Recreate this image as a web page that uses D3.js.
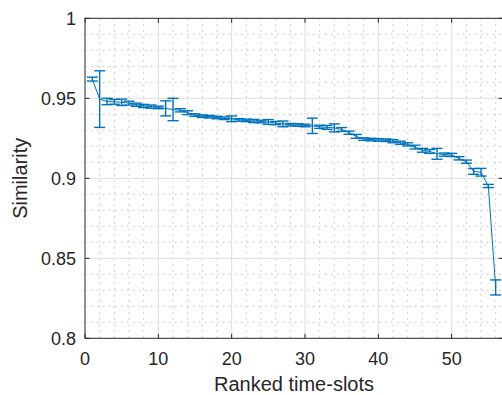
<!DOCTYPE html>
<html>
<head>
<meta charset="utf-8">
<script src="https://cdn.jsdelivr.net/npm/d3@7"></script>
<style>
  body { margin: 0; background: #fff; }
  svg { display: block; }
</style>
</head>
<body>
<div id="chart"></div>
<script>
// Ranked time-slots (x) and mean similarity with error half-widths
const slots = d3.range(1, 57);
const similarity = [
  0.9620, 0.9495, 0.9480, 0.9478, 0.9475, 0.9470, 0.9460, 0.9452, 0.9448, 0.9443,
  0.9437, 0.9430, 0.9425, 0.9410, 0.9395, 0.9388, 0.9385, 0.9380, 0.9375, 0.9372,
  0.9365, 0.9362, 0.9358, 0.9355, 0.9352, 0.9345, 0.9340, 0.9335, 0.9333, 0.9330,
  0.9328, 0.9322, 0.9318, 0.9315, 0.9305, 0.9285, 0.9262, 0.9245, 0.9242, 0.9240,
  0.9238, 0.9232, 0.9222, 0.9212, 0.9195, 0.9175, 0.9168, 0.9153, 0.9148, 0.9146,
  0.9125, 0.9104, 0.9043, 0.9038, 0.8952, 0.8318
];
const errorHalf = [
  0.0012, 0.0177, 0.0020, 0.0015, 0.0020, 0.0012, 0.0010, 0.0010, 0.0010, 0.0008,
  0.0047, 0.0070, 0.0010, 0.0012, 0.0008, 0.0008, 0.0008, 0.0008, 0.0008, 0.0018,
  0.0008, 0.0008, 0.0010, 0.0008, 0.0015, 0.0010, 0.0018, 0.0008, 0.0008, 0.0008,
  0.0048, 0.0010, 0.0012, 0.0025, 0.0012, 0.0010, 0.0012, 0.0008, 0.0008, 0.0008,
  0.0008, 0.0010, 0.0010, 0.0010, 0.0012, 0.0012, 0.0012, 0.0034, 0.0010, 0.0010,
  0.0010, 0.0010, 0.0018, 0.0024, 0.0010, 0.0047
];
const xTicks = [0, 10, 20, 30, 40, 50];
const yTicks = [0.8, 0.85, 0.9, 0.95, 1];
const xMinor = d3.range(2, 57, 2).filter(d => d % 10 !== 0);
const yMinor = d3.range(81, 100).filter(d => d % 5 !== 0).map(d => d / 100);

const width = 502, height = 395;
const margin = {top: 18.3, right: -1, bottom: 56.7, left: 85};
const innerW = width - margin.left - margin.right;
const innerH = height - margin.top - margin.bottom;

const axisColor = "#262626";
const lineColor = "#0072BD";
const font = "'Liberation Sans', Arial, Helvetica, sans-serif";

const x = d3.scaleLinear().domain([0, 57]).range([0, innerW]);
const y = d3.scaleLinear().domain([0.8, 1]).range([innerH, 0]);

const svg = d3.select("#chart").append("svg")
  .attr("width", width)
  .attr("height", height);

const g = svg.append("g")
  .attr("transform", `translate(${margin.left},${margin.top})`);

// Minor grid (dotted)
g.append("g").selectAll("line").data(xMinor).join("line")
  .attr("x1", d => x(d)).attr("x2", d => x(d))
  .attr("y1", 0).attr("y2", innerH)
  .attr("stroke", "#b0b0b0")
  .attr("stroke-width", 0.8)
  .attr("stroke-dasharray", "1.5,4.5");

g.append("g").selectAll("line").data(yMinor).join("line")
  .attr("x1", 0).attr("x2", innerW)
  .attr("y1", d => y(d)).attr("y2", d => y(d))
  .attr("stroke", "#b0b0b0")
  .attr("stroke-width", 0.8)
  .attr("stroke-dasharray", "1.5,4.5");

// Major grid
g.append("g").selectAll("line").data(xTicks.slice(1)).join("line")
  .attr("x1", d => x(d)).attr("x2", d => x(d))
  .attr("y1", 0).attr("y2", innerH)
  .attr("stroke", "#dedede")
  .attr("stroke-width", 1);

g.append("g").selectAll("line").data(yTicks.slice(1, -1)).join("line")
  .attr("x1", 0).attr("x2", innerW)
  .attr("y1", d => y(d)).attr("y2", d => y(d))
  .attr("stroke", "#dedede")
  .attr("stroke-width", 1);

// Data series: connecting line
const points = slots.map((s, i) => ({x: s, y: similarity[i], e: errorHalf[i]}));

g.append("path")
  .datum(points)
  .attr("fill", "none")
  .attr("stroke", lineColor)
  .attr("stroke-width", 1)
  .attr("d", d3.line().x(d => x(d.x)).y(d => y(d.y)));

// Error bars
const capHalf = 5.5;
const bars = g.append("g")
  .attr("stroke", lineColor)
  .attr("stroke-width", 1.4)
  .selectAll("g").data(points).join("g");

bars.append("line")
  .attr("x1", d => x(d.x)).attr("x2", d => x(d.x))
  .attr("y1", d => y(d.y - d.e)).attr("y2", d => y(d.y + d.e));

bars.append("line")
  .attr("x1", d => x(d.x) - capHalf).attr("x2", d => x(d.x) + capHalf)
  .attr("y1", d => y(d.y + d.e)).attr("y2", d => y(d.y + d.e));

bars.append("line")
  .attr("x1", d => x(d.x) - capHalf).attr("x2", d => x(d.x) + capHalf)
  .attr("y1", d => y(d.y - d.e)).attr("y2", d => y(d.y - d.e));

// Axes (box with inward ticks)
const tickLen = 4.5;
const axes = g.append("g")
  .attr("stroke", axisColor)
  .attr("stroke-width", 1);

axes.append("rect")
  .attr("x", 0).attr("y", 0)
  .attr("width", innerW).attr("height", innerH)
  .attr("fill", "none");

axes.selectAll(".xt").data(xTicks).join("line")
  .attr("x1", d => x(d)).attr("x2", d => x(d))
  .attr("y1", innerH).attr("y2", innerH - tickLen);
axes.selectAll(".xtt").data(xTicks).join("line")
  .attr("x1", d => x(d)).attr("x2", d => x(d))
  .attr("y1", 0).attr("y2", tickLen);
axes.selectAll(".yt").data(yTicks).join("line")
  .attr("x1", 0).attr("x2", tickLen)
  .attr("y1", d => y(d)).attr("y2", d => y(d));
axes.selectAll(".ytr").data(yTicks).join("line")
  .attr("x1", innerW).attr("x2", innerW - tickLen)
  .attr("y1", d => y(d)).attr("y2", d => y(d));

// Tick labels
g.append("g").selectAll("text").data(xTicks).join("text")
  .attr("x", d => x(d))
  .attr("y", innerH + 27)
  .attr("text-anchor", "middle")
  .attr("fill", axisColor)
  .attr("font-family", font)
  .attr("font-size", "18px")
  .text(d => d);

g.append("g").selectAll("text").data(yTicks).join("text")
  .attr("x", -9)
  .attr("y", d => y(d))
  .attr("dy", "0.36em")
  .attr("text-anchor", "end")
  .attr("fill", axisColor)
  .attr("font-family", font)
  .attr("font-size", "18px")
  .text(d => d === 1 ? "1" : d3.format(".2~f")(d));

// Axis titles
svg.append("text")
  .attr("x", margin.left + x(57) / 2)
  .attr("y", 391)
  .attr("text-anchor", "middle")
  .attr("fill", axisColor)
  .attr("font-family", font)
  .attr("font-size", "20px")
  .text("Ranked time-slots");

svg.append("text")
  .attr("transform", `translate(27,${margin.top + innerH / 2}) rotate(-90)`)
  .attr("text-anchor", "middle")
  .attr("fill", axisColor)
  .attr("font-family", font)
  .attr("font-size", "20px")
  .text("Similarity");
</script>
</body>
</html>
